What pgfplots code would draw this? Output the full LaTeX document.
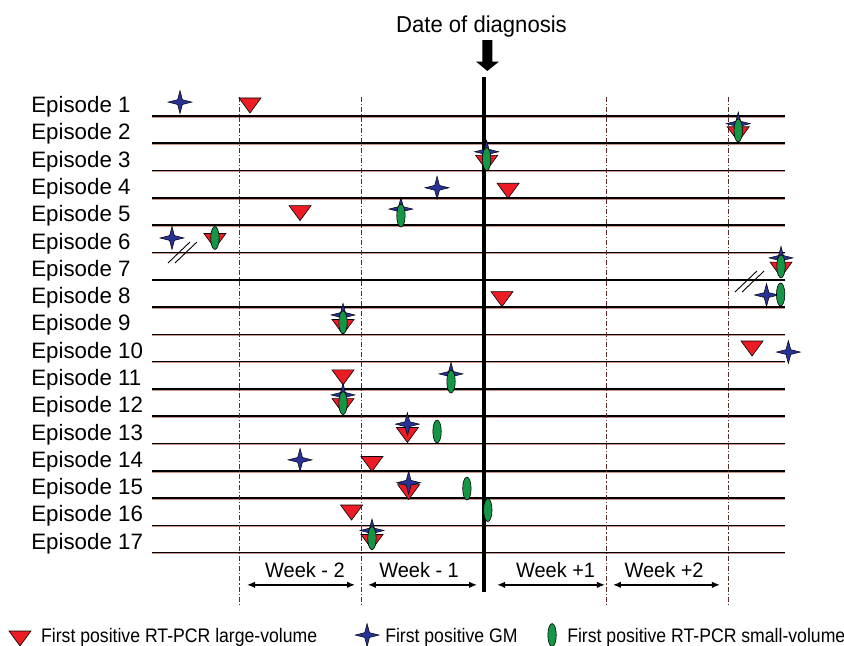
\documentclass[border=0pt]{standalone}
\usepackage{fontspec}
\setmainfont{Liberation Sans}
\newfontfamily\narrowfont[FakeStretch=0.9]{Liberation Sans}
\newfontfamily\wkfamily[FakeStretch=0.96]{Liberation Sans}
\usepackage{pgfplots}
\pgfplotsset{compat=1.18}
\usetikzlibrary{arrows.meta}
\definecolor{mred}{RGB}{237,28,36}
\definecolor{mblue}{RGB}{40,50,150}
\definecolor{mgreen}{RGB}{20,150,70}
\definecolor{vline}{RGB}{90,45,45}
\definecolor{hshadow}{RGB}{205,150,140}

\pgfdeclareplotmark{tri}{%
  \pgfpathmoveto{\pgfqpoint{-11bp}{7.5bp}}%
  \pgfpathlineto{\pgfqpoint{11bp}{7.5bp}}%
  \pgfpathlineto{\pgfqpoint{0bp}{-7.5bp}}%
  \pgfpathclose\pgfusepathqfillstroke}
\pgfdeclareplotmark{gmstar}{%
  \pgfpathmoveto{\pgfqpoint{0bp}{11.5bp}}%
  \pgfpathlineto{\pgfqpoint{2.4bp}{2.4bp}}%
  \pgfpathlineto{\pgfqpoint{12bp}{0bp}}%
  \pgfpathlineto{\pgfqpoint{2.4bp}{-2.4bp}}%
  \pgfpathlineto{\pgfqpoint{0bp}{-11.5bp}}%
  \pgfpathlineto{\pgfqpoint{-2.4bp}{-2.4bp}}%
  \pgfpathlineto{\pgfqpoint{-12bp}{0bp}}%
  \pgfpathlineto{\pgfqpoint{-2.4bp}{2.4bp}}%
  \pgfpathclose\pgfusepathqfillstroke}
\pgfdeclareplotmark{ell}{%
  \pgfpathellipse{\pgfpointorigin}{\pgfqpoint{4.2bp}{0bp}}{\pgfqpoint{0bp}{11.5bp}}%
  \pgfusepathqfillstroke}

\newcommand{\epfont}{\fontsize{22.3bp}{26bp}\selectfont}
\newcommand{\ttfont}{\wkfamily\fontsize{23bp}{27bp}\selectfont}
\newcommand{\wkfont}{\wkfamily\fontsize{20.8bp}{24bp}\selectfont}
\newcommand{\lgfont}{\narrowfont\fontsize{19.6bp}{23bp}\selectfont}

\pgfplotstableread{
x y
-13.41 0.615
14.57 1.67
0.15 2.72
1.38 3.74
-10.54 4.56
-15.42 5.58
17.02 6.63
1.03 7.71
-8.08 8.73
15.36 9.52
-8.08 10.58
-8.08 11.63
-4.39 12.69
-6.42 13.75
-4.32 14.78
-7.59 15.53
-6.42 16.61
}\tridata
\pgfplotstableread{
x y
-17.42 0.49
14.57 1.28
0.15 2.31
-2.69 3.63
-4.76 4.41
-17.88 5.47
17.02 6.20
16.19 7.56
-8.08 8.29
17.44 9.65
-1.89 10.45
-8.08 11.22
-4.39 12.29
-10.54 13.60
-4.32 14.44
-6.42 16.19
}\stardata
\pgfplotstableread{
x y
14.57 1.53
0.15 2.58
-4.76 4.65
-15.42 5.47
17.02 6.51
17.00 7.54
-8.08 8.56
-1.89 10.73
-8.08 11.52
-2.69 12.56
-0.98 14.65
0.22 15.44
-6.42 16.47
}\elldata

\begin{document}
\begin{tikzpicture}
\useasboundingbox (0,0) rectangle (844bp,646bp);
\begin{axis}[at={(0,0)}, anchor=south west, scale only axis,
  width=844bp, height=646bp,
  xmin=-27.736, xmax=20.630, ymin=-3.2507, ymax=20.4211,
  y dir=reverse, hide axis, clip=false]

% horizontal episode lines
\pgfplotsinvokeforeach{1,...,17}{%
  \addplot[hshadow, line width=0.9bp, yshift=-1.2bp, forget plot] coordinates {(-19.03,#1) (17.25,#1)};
  \addplot[black, line width=1.6bp, forget plot] coordinates {(-19.03,#1) (17.25,#1)};
}
% week boundaries
\pgfplotsinvokeforeach{-14,-7,7,14}{%
  \addplot[vline, line width=1bp, dash pattern=on 5bp off 2bp on 1.2bp off 2bp, forget plot] coordinates {(#1,0.30) (#1,18.985)};
}
% diagnosis line
\addplot[black, line width=4.8bp, forget plot] coordinates {(0,-0.429) (0,18.44)};
% block arrow
\addplot[fill=black, draw=none, forget plot] coordinates {(-0.097,-1.785) (0.476,-1.785) (0.476,-0.997) (0.86,-0.997) (0.19,-0.649) (-0.458,-0.997) (-0.097,-0.997)} --cycle;

% break marks
\addplot[black, line width=0.9bp, forget plot] coordinates {(-18.11,6.387) (-16.85,5.617)};
\addplot[black, line width=0.9bp, forget plot] coordinates {(-17.71,6.387) (-16.45,5.617)};
\addplot[black, line width=0.9bp, forget plot] coordinates {(14.38,7.449) (15.64,6.680)};
\addplot[black, line width=0.9bp, forget plot] coordinates {(14.79,7.449) (16.05,6.680)};

% week arrows
\pgfplotsset{wkarrow/.style={black, line width=1.4bp, arrows={Latex[length=8bp,width=6.5bp]-Latex[length=8bp,width=6.5bp]}, forget plot}}
\addplot[wkarrow] coordinates {(-13.58,18.18) (-7.39,18.18)};
\addplot[wkarrow] coordinates {(-6.65,18.18) (-0.40,18.18)};
\addplot[wkarrow] coordinates {(0.75,18.18) (6.93,18.18)};
\addplot[wkarrow] coordinates {(7.39,18.18) (13.52,18.18)};

% markers
\addplot[only marks, mark=tri, mark options={fill=mred, draw=black, line width=0.6bp}, forget plot] table {\tridata};
\addplot[only marks, mark=gmstar, mark options={fill=mblue, draw=black, line width=0.5bp}, forget plot] table {\stardata};
\addplot[only marks, mark=ell, mark options={fill=mgreen, draw=black, line width=0.6bp}, forget plot] table {\elldata};

% legend markers
\addplot[only marks, mark=tri, mark options={fill=mred, draw=black, line width=0.6bp}, forget plot] coordinates {(-26.59,20.146)};
\addplot[only marks, mark=gmstar, mark options={fill=mblue, draw=black, line width=0.5bp}, forget plot] coordinates {(-6.70,20.02)};
\addplot[only marks, mark=ell, mark options={fill=mgreen, draw=black, line width=0.6bp}, forget plot] coordinates {(3.90,20.02)};

% texts
\node[anchor=base, font=\ttfont, inner sep=0] at (axis cs:-0.143,-2.078) {Date of diagnosis};
\node[anchor=base west, font=\epfont, inner sep=0] at (axis cs:-25.95,0.875) {Episode 1};
\node[anchor=base west, font=\epfont, inner sep=0] at (axis cs:-25.95,1.875) {Episode 2};
\node[anchor=base west, font=\epfont, inner sep=0] at (axis cs:-25.95,2.875) {Episode 3};
\node[anchor=base west, font=\epfont, inner sep=0] at (axis cs:-25.95,3.875) {Episode 4};
\node[anchor=base west, font=\epfont, inner sep=0] at (axis cs:-25.95,4.875) {Episode 5};
\node[anchor=base west, font=\epfont, inner sep=0] at (axis cs:-25.95,5.875) {Episode 6};
\node[anchor=base west, font=\epfont, inner sep=0] at (axis cs:-25.95,6.875) {Episode 7};
\node[anchor=base west, font=\epfont, inner sep=0] at (axis cs:-25.95,7.875) {Episode 8};
\node[anchor=base west, font=\epfont, inner sep=0] at (axis cs:-25.95,8.875) {Episode 9};
\node[anchor=base west, font=\epfont, inner sep=0] at (axis cs:-25.95,9.875) {Episode 10};
\node[anchor=base west, font=\epfont, inner sep=0] at (axis cs:-25.95,10.875) {Episode 11};
\node[anchor=base west, font=\epfont, inner sep=0] at (axis cs:-25.95,11.875) {Episode 12};
\node[anchor=base west, font=\epfont, inner sep=0] at (axis cs:-25.95,12.875) {Episode 13};
\node[anchor=base west, font=\epfont, inner sep=0] at (axis cs:-25.95,13.875) {Episode 14};
\node[anchor=base west, font=\epfont, inner sep=0] at (axis cs:-25.95,14.875) {Episode 15};
\node[anchor=base west, font=\epfont, inner sep=0] at (axis cs:-25.95,15.875) {Episode 16};
\node[anchor=base west, font=\epfont, inner sep=0] at (axis cs:-25.95,16.875) {Episode 17};

\node[anchor=base, font=\wkfont, inner sep=0] at (axis cs:-10.26,17.92) {Week - 2};
\node[anchor=base, font=\wkfont, inner sep=0] at (axis cs:-3.72,17.92) {Week - 1};
\node[anchor=base, font=\wkfont, inner sep=0] at (axis cs:4.10,17.92) {Week +1};
\node[anchor=base, font=\wkfont, inner sep=0] at (axis cs:10.32,17.92) {Week +2};

\node[anchor=base west, font=\lgfont, inner sep=0] at (axis cs:-25.39,20.285) {First positive RT-PCR large-volume};
\node[anchor=base west, font=\lgfont, inner sep=0] at (axis cs:-5.67,20.285) {First positive GM};
\node[anchor=base west, font=\lgfont, inner sep=0] at (axis cs:4.76,20.285) {First positive RT-PCR small-volume};
\end{axis}
\end{tikzpicture}
\end{document}
